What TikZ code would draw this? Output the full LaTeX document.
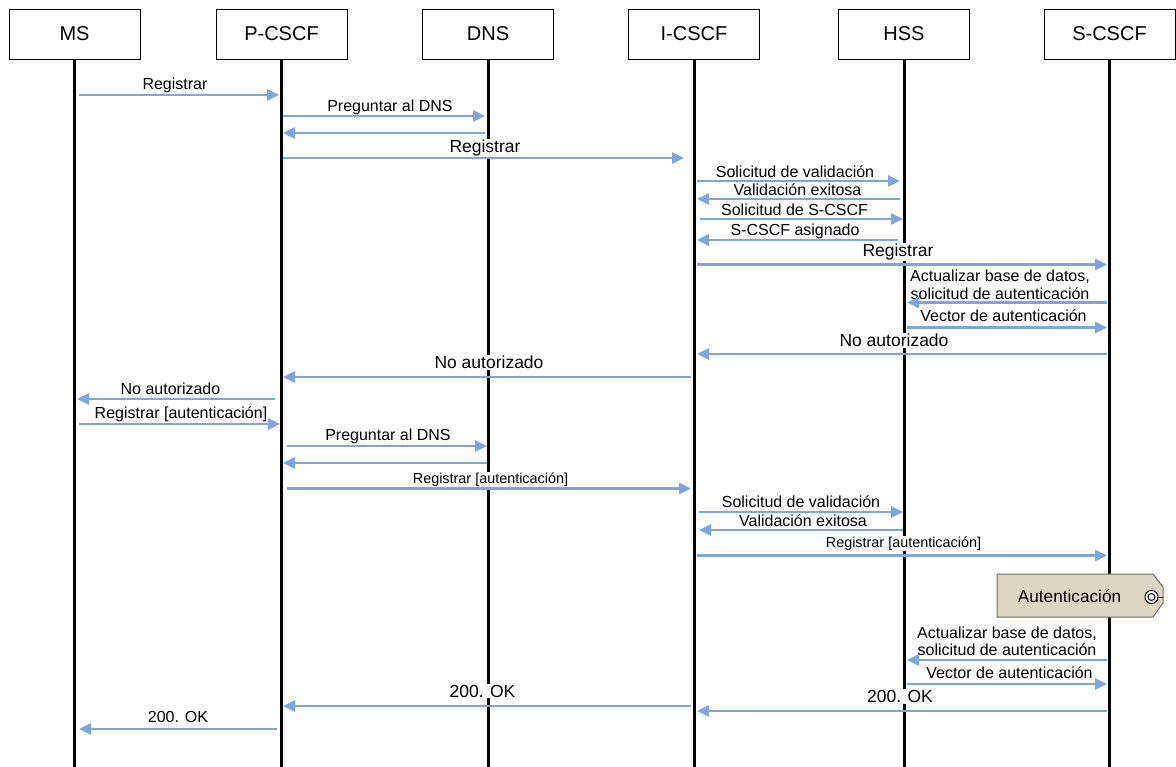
\documentclass[tikz,border=0pt]{standalone}
\usepackage{fontspec}
\setmainfont{Liberation Sans}
\usetikzlibrary{arrows.meta,calc}
\definecolor{msgblue}{RGB}{126,166,222}
\definecolor{tagfill}{RGB}{221,214,193}
\definecolor{tagline}{RGB}{110,110,110}
\newcommand\Msg[5]{\draw[msg] ($(#1.south|-0,#5)+(#2,0)$) -- ($(#3.south|-0,#5)+(#4,0)$);}
\begin{document}
\begin{tikzpicture}[x=1pt,y=-1pt,
  actor/.style={draw=black, line width=0.9pt, fill=white, minimum width=131pt, minimum height=50pt, font=\fontsize{20}{24}\selectfont, inner sep=0pt},
  life/.style={line width=3pt, black},
  msg/.style={draw=msgblue, line width=2.8pt, -{Triangle[length=12pt,width=11pt]}},
  lbl/.style={fill=white, inner sep=1pt, anchor=base, font=\fontsize{16}{17.6}\selectfont},
  lblbig/.style={lbl, font=\fontsize{17.5}{20}\selectfont},
  lblsmall/.style={lbl, font=\fontsize{14.4}{16}\selectfont},
  tagtext/.style={font=\fontsize{17.2}{20}\selectfont, inner sep=0pt},
]
\useasboundingbox (0,0) rectangle (1176,767);
% actors
\node[actor] (ms) at (74.5,34) {MS};
\node[actor] (pc) at (281.5,34) {P-CSCF};
\node[actor] (dns) at (488,34) {DNS};
\node[actor] (ic) at (694,34) {I-CSCF};
\node[actor] (hss) at (904,34) {HSS};
\node[actor] (sc) at (1109.5,34) {S-CSCF};
\coordinate (bottom) at (0,768);
% lifelines
\foreach \a in {ms,pc,dns,ic,hss,sc}{\draw[life] (\a.south) -- (\a.south |- bottom);}
% authentication tag
\draw[fill=tagfill, draw=tagline, line width=1pt] (997,574) -- (1153,574) -- (1163,587) -- (1163,603) -- (1153,617) -- (997,617) -- cycle;
\node[tagtext] (auth) at (1069.5,596) {Autenticación};
\node[circle, draw=black, fill=white, line width=1pt, minimum size=13pt, inner sep=0pt] (ring) at (1151.5,597) {};
\node[circle, draw=black, line width=1pt, minimum size=7pt, inner sep=0pt] (ringin) at (1151.5,597) {};
\coordinate (ringend) at (1163,597);
\draw[line width=1pt] (ring.east) -- (ringend);
% labels
\node[lbl] (l1) at (175,90) {Registrar};
\node[lbl] (l2) at (390,111.5) {Preguntar al DNS};
\node[lblbig] (l4) at (485,153) {Registrar};
\node[lbl] (l5) at (795,177.3) {Solicitud de validación};
\node[lbl] (l6) at (797.5,196) {Validación exitosa};
\node[lbl] (l7) at (794.5,216) {Solicitud de S-CSCF};
\node[lbl] (l8) at (795,236) {S-CSCF asignado};
\node[lblbig] (l9) at (898,256.7) {Registrar};
\node[lbl] (l10a) at (1000,281.7) {Actualizar base de datos,};
\node[lbl] (l10b) at (1000,299.3) {solicitud de autenticación};
\node[lbl] (l11) at (1003.5,321.7) {Vector de autenticación};
\node[lblbig] (l12) at (894,346.7) {No autorizado};
\node[lblbig] (l13) at (489,368.5) {No autorizado};
\node[lbl] (l14) at (170.5,395) {No autorizado};
\node[lbl] (l15) at (181,418.3) {Registrar [autenticación]};
\node[lbl] (l16) at (388,440.5) {Preguntar al DNS};
\node[lblsmall] (l18) at (490.5,483.3) {Registrar [autenticación]};
\node[lbl] (l19) at (801,507.8) {Solicitud de validación};
\node[lbl] (l20) at (803,526.5) {Validación exitosa};
\node[lblsmall] (l21) at (903.5,547.3) {Registrar [autenticación]};
\node[lbl] (l23a) at (1007,638.3) {Actualizar base de datos,};
\node[lbl] (l23b) at (1007,655) {solicitud de autenticación};
\node[lbl] (l24) at (1009.5,678.3) {Vector de autenticación};
\node[lblbig] (l25) at (900,702.7) {200. OK};
\node[lblbig] (l26) at (482.5,697.3) {200. OK};
\node[lbl] (l27) at (178,722) {200. OK};
% messages
\Msg{ms}{4.5}{pc}{-2.5}{95}
\Msg{pc}{1.5}{dns}{-3}{116}
\Msg{dns}{-3}{pc}{1.5}{133}
\Msg{pc}{1.5}{ic}{-10}{158}
\Msg{ic}{3}{hss}{-4}{181}
\Msg{hss}{-4}{ic}{3}{199}
\Msg{ic}{6}{hss}{-1}{219}
\Msg{hss}{-6}{ic}{3}{240}
\Msg{ic}{3}{sc}{-2.5}{264.5}
\Msg{sc}{-2.5}{hss}{3}{302.5}
\Msg{hss}{3}{sc}{-2.5}{327.5}
\Msg{sc}{-2.5}{ic}{3}{354}
\Msg{ic}{-3}{pc}{1.5}{377}
\Msg{pc}{-6.5}{ms}{2.5}{399}
\Msg{ms}{4.5}{pc}{-1.5}{424}
\Msg{pc}{5.5}{dns}{-1}{446}
\Msg{dns}{-1}{pc}{1.5}{463}
\Msg{pc}{5.5}{ic}{-3}{488.5}
\Msg{ic}{5}{hss}{-1}{512}
\Msg{hss}{-1}{ic}{5}{530}
\Msg{ic}{3}{sc}{-2.5}{555.5}
\Msg{sc}{-2.5}{hss}{3}{660}
\Msg{hss}{3}{sc}{-2.5}{684}
\Msg{sc}{-2.5}{ic}{3}{711}
\Msg{ic}{-3}{pc}{1.5}{706}
\Msg{pc}{-4.5}{ms}{4.5}{729}
\end{tikzpicture}
\end{document}
